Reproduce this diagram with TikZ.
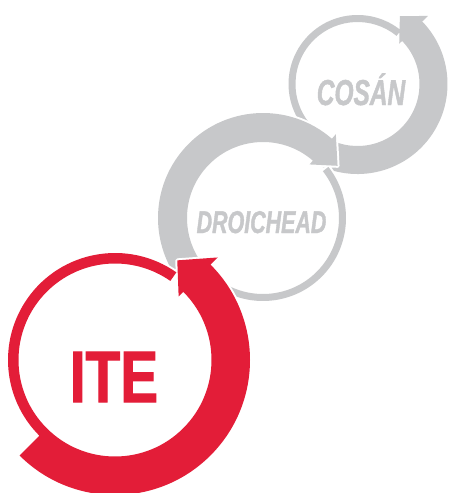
\documentclass[tikz,border=0pt]{standalone}
\usepackage{fontspec}
\newfontfamily\itefont{Liberation Sans}[FakeStretch=0.78, FakeBold=1.5]
\newfontfamily\stepfont{Liberation Sans}[FakeStretch=0.68, FakeBold=1.2]
\definecolor{iteRed}{HTML}{E31D38}
\definecolor{stepGrey}{HTML}{C7C8CA}
\begin{document}
\begin{tikzpicture}[x=1pt, y=1pt,
  every node/.style={inner sep=0pt, anchor=base},
  halo/.style={preaction={draw=white, line width=4pt, line join=round}},
  loopred/.style={halo, fill=iteRed},
  loopgrey/.style={halo, fill=stepGrey}]
\useasboundingbox (0,0) rectangle (450,-493);
\coordinate (cosanC) at (357.5,-84);
\coordinate (droicheadC) at (263,-218);
\coordinate (iteC) at (115,-360);
% cosan loop, anticlockwise
\fill[loopgrey, shift={(cosanC)}] (245:90) arc[start angle=245, end angle=404, radius=90]
  -- (44:98) -- (58:80) -- (44:58) -- (44:62) arc[start angle=44, end angle=-309, radius=62]
  -- (51:69) arc[start angle=51, end angle=245, radius=69] -- cycle;
% droichead loop, clockwise (mirrored)
\fill[loopgrey, shift={(droicheadC)}, xscale=-1] (-48:105) arc[start angle=-48, end angle=131, radius=105]
  -- (131:111) -- (145:91) -- (131:71) -- (131:76) arc[start angle=131, end angle=-218, radius=76]
  -- (142:83) arc[start angle=142, end angle=312, radius=83] -- cycle;
% ite loop, anticlockwise
\fill[loopred, shift={(iteC)}] (225:135) arc[start angle=225, end angle=405, radius=135]
  -- (45:145) -- (58:117.5) -- (45:90) -- (45:96.5) arc[start angle=45, end angle=-305, radius=96.5]
  -- (55:107) arc[start angle=55, end angle=225, radius=107] -- cycle;
% labels
\node[text=stepGrey, font=\stepfont\bfseries\itshape\fontsize{36}{40}\selectfont] (cosan) at (361,-105) {COSÁN};
\node[text=stepGrey, font=\stepfont\bfseries\itshape\fontsize{31.5}{36}\selectfont] (droichead) at (261.5,-233) {DROICHEAD};
\node[text=iteRed, font=\itefont\bfseries\fontsize{72.7}{80}\selectfont] (ite) at (114,-402) {ITE};
\end{tikzpicture}
\end{document}
